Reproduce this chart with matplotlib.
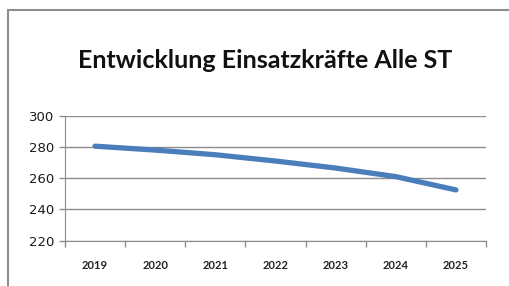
import matplotlib
matplotlib.use("Agg")
import matplotlib.pyplot as plt
from matplotlib.patches import Rectangle

years = ["2019", "2020", "2021", "2022", "2023", "2024", "2025"]
values = [280.5, 278, 275, 271, 266.5, 261, 252.5]
yticks = [220, 240, 260, 280, 300]
title = "Entwicklung Einsatzkräfte Alle ST"

W, H = 509, 286
fig = plt.figure(figsize=(W / 100, H / 100), dpi=100)
fig.patch.set_facecolor("white")

# outer chart frame (left and top edges visible)
fig.add_artist(Rectangle((8 / W, -0.5), 2, (1 - 10 / H) + 0.5, transform=fig.transFigure,
                         fill=False, edgecolor="#8c8c8c", linewidth=1.5))

left, right = 65 / W, 486 / W
top, bottom = 1 - 115.7 / H, 1 - 240.7 / H
ax = fig.add_axes([left, bottom, right - left, top - bottom])

x = list(range(len(years)))
ax.plot(x, values, color="#4a7ebb", linewidth=3.8, solid_capstyle="round")
ax.set_xlim(-0.5, len(years) - 0.5)
ax.set_ylim(220, 300)
ax.set_yticks(yticks)
ax.set_yticklabels([str(v) for v in yticks], fontsize=9.5, family="DejaVu Sans", color="#1a1a1a")
ax.yaxis.grid(True, color="#8c8c8c", linewidth=1.0)
ax.set_axisbelow(True)

ax.set_xticks(x)
ax.set_xticklabels(years, fontsize=8, family="Lato", fontweight="bold", color="#222222")
ax.set_xticks([i - 0.5 for i in range(len(years) + 1)], minor=True)
ax.tick_params(axis="x", which="major", length=0, pad=14)
ax.tick_params(axis="x", which="minor", length=4, color="#8c8c8c", width=1)
ax.tick_params(axis="y", length=4, color="#8c8c8c", width=1, pad=4)

for s in ["top", "right"]:
    ax.spines[s].set_visible(False)
ax.spines["left"].set_color("#8c8c8c")
ax.spines["bottom"].set_color("#8c8c8c")

fig.text(265 / W, 1 - 60 / H, title, ha="center", va="center", fontsize=18,
         fontweight="bold", family="Lato", color="#111111")

fig.savefig("out.png", dpi=100)
